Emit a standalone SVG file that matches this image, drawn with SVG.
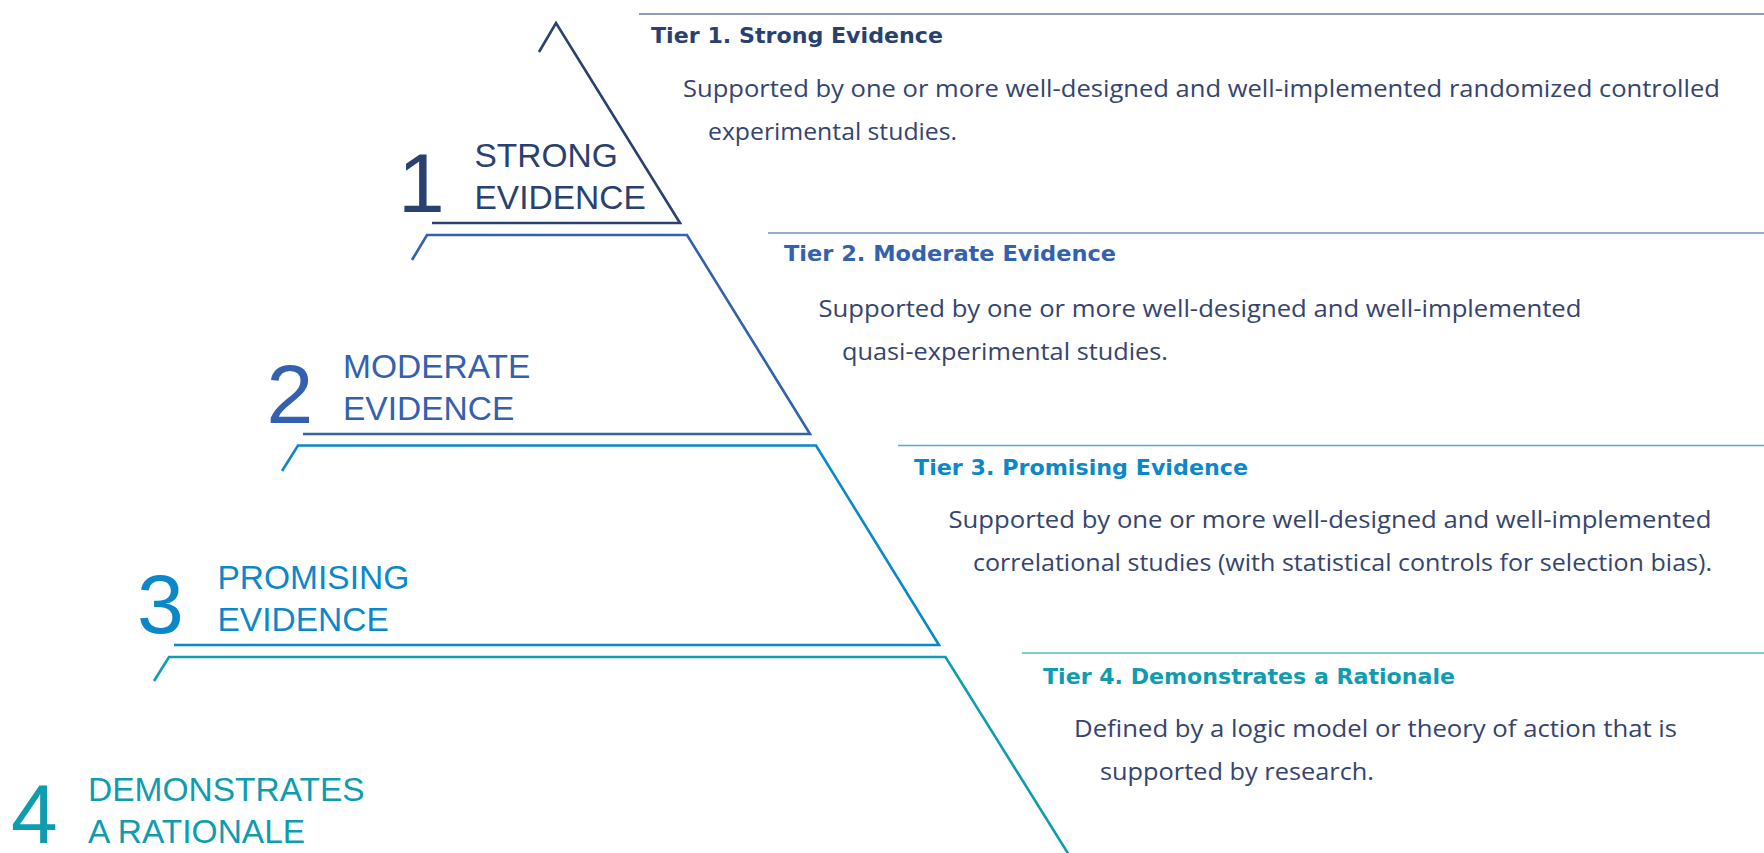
<svg xmlns="http://www.w3.org/2000/svg" width="1764" height="853" viewBox="0 0 1764 853">
<style>
.shape{fill:none;stroke-width:2.6;stroke-linejoin:miter;stroke-linecap:butt}
.hline{fill:none;stroke-width:1.6;opacity:0.7}
.num{font-family:"Liberation Sans",Arial,sans-serif;font-size:84px}
.lab{font-family:"Liberation Sans",Arial,sans-serif;font-size:33.5px}
.title{font-family:"DejaVu Sans","Open Sans",sans-serif;font-weight:bold;font-size:21px}
.body{font-family:"Open Sans","Noto Sans",sans-serif;font-size:24.5px;fill:#35446e}
.s1{stroke:#2a4170}.f1{fill:#2a4170}
.s2{stroke:#3461ae}.f2{fill:#3461ae}
.s3{stroke:#0b88c9}.f3{fill:#0b88c9}
.s4{stroke:#0f9caf}.f4{fill:#0f9caf}
</style>
<rect width="1764" height="853" fill="#ffffff"/>

<g id="tier1">
  <polyline class="shape s1" points="539,52 556,23 680,223 432,223"/>
  <text class="num f1" x="398" y="212">1</text>
  <text class="lab f1" x="474.5" y="167">STRONG</text>
  <text class="lab f1" x="474.5" y="209">EVIDENCE</text>
  <line class="hline s1" x1="639" y1="14" x2="1764" y2="14"/>
  <text class="title f1" x="651" y="43" textLength="292" lengthAdjust="spacingAndGlyphs">Tier 1. Strong Evidence</text>
  <text class="body" x="683" y="97" textLength="1037" lengthAdjust="spacingAndGlyphs">Supported by one or more well-designed and well-implemented randomized controlled</text>
  <text class="body" x="708" y="140" textLength="249" lengthAdjust="spacingAndGlyphs">experimental studies.</text>
</g>

<g id="tier2">
  <polyline class="shape s2" points="412,260 427,235 687,235 810,434 303,434"/>
  <text class="num f2" x="266.5" y="423">2</text>
  <text class="lab f2" x="343" y="377.5">MODERATE</text>
  <text class="lab f2" x="343" y="419.5">EVIDENCE</text>
  <line class="hline s2" x1="768" y1="233" x2="1764" y2="233"/>
  <text class="title f2" x="784" y="261" textLength="332" lengthAdjust="spacingAndGlyphs">Tier 2. Moderate Evidence</text>
  <text class="body" x="818.5" y="317" textLength="763" lengthAdjust="spacingAndGlyphs">Supported by one or more well-designed and well-implemented</text>
  <text class="body" x="842" y="360" textLength="326" lengthAdjust="spacingAndGlyphs">quasi-experimental studies.</text>
</g>

<g id="tier3">
  <polyline class="shape s3" points="282,471 298,445.5 816,445.5 939,645 174,645"/>
  <text class="num f3" x="137" y="632.5">3</text>
  <text class="lab f3" x="217.5" y="588.5">PROMISING</text>
  <text class="lab f3" x="217.5" y="630.5">EVIDENCE</text>
  <line class="hline s3" x1="898" y1="445.5" x2="1764" y2="445.5"/>
  <text class="title f3" x="914" y="475" textLength="334" lengthAdjust="spacingAndGlyphs">Tier 3. Promising Evidence</text>
  <text class="body" x="948.5" y="528" textLength="763" lengthAdjust="spacingAndGlyphs">Supported by one or more well-designed and well-implemented</text>
  <text class="body" x="973" y="570.5" textLength="739" lengthAdjust="spacingAndGlyphs">correlational studies (with statistical controls for selection bias).</text>
</g>

<g id="tier4">
  <polyline class="shape s4" points="154,681 169,657 945.5,657 1069,855"/>
  <text class="num f4" x="11" y="843">4</text>
  <text class="lab f4" x="88" y="800.5">DEMONSTRATES</text>
  <text class="lab f4" x="88" y="842.5">A RATIONALE</text>
  <line class="hline s4" x1="1022" y1="653" x2="1764" y2="653"/>
  <text class="title f4" x="1043" y="683.5" textLength="412" lengthAdjust="spacingAndGlyphs">Tier 4. Demonstrates a Rationale</text>
  <text class="body" x="1074" y="737" textLength="603" lengthAdjust="spacingAndGlyphs">Defined by a logic model or theory of action that is</text>
  <text class="body" x="1100" y="780" textLength="274" lengthAdjust="spacingAndGlyphs">supported by research.</text>
</g>

<g id="connectors"></g>
</svg>
